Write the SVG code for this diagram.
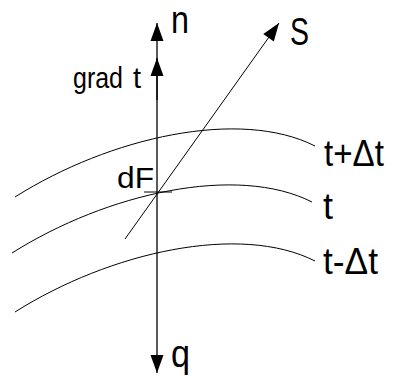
<svg xmlns="http://www.w3.org/2000/svg" width="394" height="376" viewBox="0 0 394 376">
<style>
.bg{fill:#fff}
.ln{fill:none;stroke:#000;stroke-width:1.3}
.thin{fill:none;stroke:#000;stroke-width:1}
.lbl{font-family:"Liberation Sans",Arial,sans-serif;font-size:36px;fill:#000}
.big{font-family:"Liberation Sans",Arial,sans-serif;font-size:38px;fill:#000}
.sm{font-family:"Liberation Sans",Arial,sans-serif;font-size:29px;fill:#000}
</style>
<defs>
<marker id="ah" markerUnits="userSpaceOnUse" markerWidth="20" markerHeight="16" viewBox="-19 -8 20 16" refX="0" refY="0" orient="auto-start-reverse">
<path d="M0,0 L-18,-6.5 L-18,6.5 Z" fill="#000"/>
</marker>
<path id="iso" d="M15,197 C110,137 240,108 315,146"/>
</defs>
<rect class="bg" x="0" y="0" width="394" height="376"/>
<g id="connectors">
<line id="axis" class="ln" x1="157" y1="373" x2="157" y2="23" marker-start="url(#ah)" marker-end="url(#ah)"/>
<line id="grad" class="ln" x1="157" y1="100" x2="157" y2="58" marker-end="url(#ah)"/>
<line id="s-vec" class="thin" x1="125" y1="239" x2="279" y2="23" marker-end="url(#ah)"/>
</g>
<g id="iso-plus">
<use href="#iso" class="thin"/>
<text class="lbl" x="324" y="166" textLength="60" lengthAdjust="spacingAndGlyphs">t+Δt</text>
</g>
<g id="iso-t">
<use href="#iso" class="thin" transform="translate(-3,56)"/>
<text class="lbl" x="323" y="219">t</text>
</g>
<g id="iso-minus">
<use href="#iso" class="thin" transform="translate(0,115)"/>
<text class="lbl" x="323" y="274" textLength="55" lengthAdjust="spacingAndGlyphs">t-Δt</text>
</g>
<g id="dF">
<line class="thin" x1="144" y1="192" x2="172" y2="192"/>
<text class="sm" x="117" y="188" textLength="37" lengthAdjust="spacingAndGlyphs">dF</text>
</g>
<g id="label-n"><text class="big" x="171" y="33" textLength="18" lengthAdjust="spacingAndGlyphs">n</text></g>
<g id="label-S"><text class="big" x="290" y="45" textLength="19" lengthAdjust="spacingAndGlyphs">S</text></g>
<g id="label-grad"><text class="sm" x="73" y="88" textLength="50" lengthAdjust="spacingAndGlyphs">grad</text><text class="sm" x="133" y="88">t</text></g>
<g id="label-q"><text class="big" x="171" y="367" textLength="19" lengthAdjust="spacingAndGlyphs">q</text></g>
</svg>
